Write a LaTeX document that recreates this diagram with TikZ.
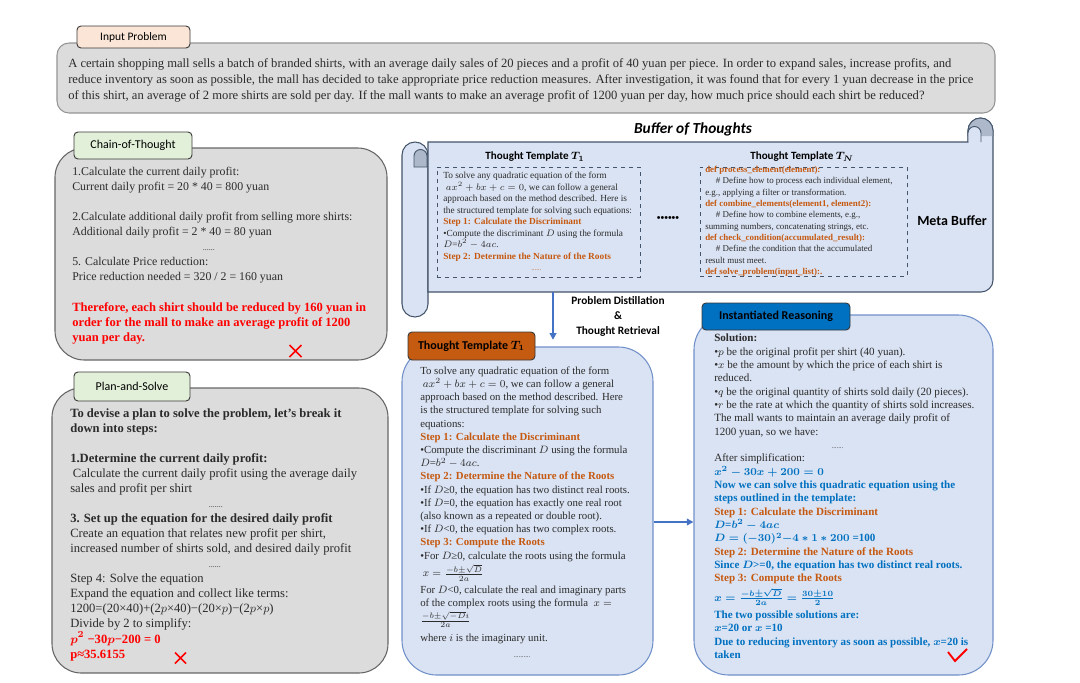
\documentclass[tikz,border=0pt]{standalone}
\usepackage{amsmath}
\usepackage{fontspec}
\setmainfont{Liberation Serif}
\newfontfamily\lblfont{Carlito}
\usepackage{xcolor}
\usepackage{tikz}
\usetikzlibrary{arrows.meta,positioning}

\definecolor{panelgrey}{HTML}{DCDCDC}
\definecolor{panelline}{HTML}{666666}
\definecolor{tabpeach}{HTML}{FBE5D6}
\definecolor{tabgreen}{HTML}{E2F0D9}
\definecolor{tabedge}{HTML}{3A3A3A}
\definecolor{paleblue}{HTML}{DAE3F3}
\definecolor{boxedge}{HTML}{7090C8}
\definecolor{scrollline}{HTML}{44546A}
\definecolor{scrolldark}{HTML}{ADB9CA}
\definecolor{rust}{HTML}{C55A11}
\definecolor{stepor}{HTML}{C65911}
\definecolor{solblue}{HTML}{0070C0}
\definecolor{flowblue}{HTML}{4472C4}
\definecolor{ink}{HTML}{2B2B2B}

\newcommand{\fsz}[2]{\fontsize{#1}{#2}\selectfont}

\begin{document}
\begin{tikzpicture}[
  x=0.75pt, y=-0.75pt,
  greybox/.style={draw=panelline,fill=panelgrey,line width=0.8pt,rounded corners=22pt,inner sep=0pt},
  bluebox/.style={draw=boxedge,fill=paleblue,line width=0.8pt,rounded corners=26pt,inner sep=0pt},
  tab/.style={draw=tabedge,line width=0.7pt,rounded corners=3pt,inner sep=0pt,font=\lblfont\fsz{9}{11}},
  tpl/.style={draw=scrollline,dashed,line width=0.6pt,inner sep=0pt},
  note/.style={anchor=north west,align=left,inner sep=0pt,text=ink},
  tplhead/.style={font=\lblfont\bfseries\fsz{8.3}{10}},
  flow/.style={-{Triangle[length=5pt,width=5pt]},draw=flowblue,line width=1.2pt},
  wrong/.style={draw=red,line width=1.3pt}
]
\useasboundingbox (0,0) rectangle (1080,682);

% input problem
\node[greybox,draw=panelline!70,rounded corners=9pt,minimum width=703.5pt,minimum height=52.5pt] (inputbox) at (526,78) {};
\node[tab,fill=tabpeach,minimum width=84.75pt,minimum height=16.5pt,font=\lblfont\fsz{8.6}{10}] (inputtab) at (133.5,37) {Input Problem};
\node[note,font=\fsz{9.45}{12}] (inputtxt) at (68,58) {A certain shopping mall sells a batch of branded shirts, with an average daily sales of 20 pieces and a profit of 40 yuan per piece. In order to expand sales, increase profits, and\\
reduce inventory as soon as possible, the mall has decided to take appropriate price reduction measures. After investigation, it was found that for every 1 yuan decrease in the price\\
of this shirt, an average of 2 more shirts are sold per day. If the mall wants to make an average profit of 1200 yuan per day, how much price should each shirt be reduced?};

% chain-of-thought
\node[greybox,minimum width=249pt,minimum height=159pt] (cotbox) at (221,254) {};
\node[tab,fill=tabgreen,minimum width=88.5pt,minimum height=20.25pt] (cottab) at (133,145.5) {Chain-of-Thought};
\node[note,font=\fsz{8.9}{11.25}] (cottxt) at (72,166.5) {1.Calculate the current daily profit:\\
Current daily profit = 20 * 40 = 800 yuan\\[11.25pt]
2.Calculate additional daily profit from selling more shirts:\\
Additional daily profit = 2 * 40 = 80 yuan\\
\hspace*{98pt}{\fsz{6}{11.25}......}\\
5. Calculate Price reduction:\\
Price reduction needed = 320 / 2 = 160 yuan\\[12.5pt]
{\color{red}\bfseries\fsz{9.4}{11.25}Therefore, each shirt should be reduced by 160 yuan in}\\
{\color{red}\bfseries\fsz{9.4}{11.25}order for the mall to make an average profit of 1200}\\
{\color{red}\bfseries\fsz{9.4}{11.25}yuan per day.}};
\draw[wrong] (289.5,345) -- (301.5,357) (289.5,357) -- (301.5,345);

% plan-and-solve
\node[greybox,minimum width=252pt,minimum height=213.75pt] (psbox) at (220,530.5) {};
\node[tab,fill=tabgreen,minimum width=87pt,minimum height=21.75pt] (pstab) at (132,386.5) {Plan-and-Solve};
\node[note,font=\fsz{9.45}{11.3}] (pstxt) at (70,408) {{\bfseries To devise a plan to solve the problem, let's break it}\\
{\bfseries down into steps:}\\[11.3pt]
{\bfseries 1.Determine the current daily profit:}\\
\hspace*{2pt}Calculate the current daily profit using the average daily\\
sales and profit per shirt\\
\hspace*{104pt}{\fsz{6}{11.3}.......}\\
{\bfseries 3. Set up the equation for the desired daily profit}\\
Create an equation that relates new profit per shirt,\\
increased number of shirts sold, and desired daily profit\\
\hspace*{104pt}{\fsz{6}{11.3}......}\\
Step 4: Solve the equation\\
Expand the equation and collect like terms:\\
1200=(20×40)+(2$p$×40)−(20×$p$)−(2$p$×$p$)\\
Divide by 2 to simplify:\\
{\color{red}\bfseries\boldmath $p^2$ −30$p$−200 = 0}\\
{\color{red}\bfseries p≈35.6155}};
\draw[wrong] (175,652.5) -- (186,663.5) (175,663.5) -- (186,652.5);

% buffer of thoughts (scroll)
\node[font=\lblfont\bfseries\itshape\fsz{11.5}{13}] (boftitle) at (693,129) {Buffer of Thoughts};
\draw[draw=scrollline,fill=paleblue,line width=0.8pt] (402,155) -- (402,304)
  arc[start angle=180,end angle=360,radius=9.75pt] -- (428,155)
  arc[start angle=0,end angle=180,radius=9.75pt] -- cycle;
\draw[draw=scrollline,fill=scrolldark,line width=0.7pt] (414,167) -- (414,156)
  arc[start angle=180,end angle=0,radius=4.875pt] -- (427,167) -- cycle;
\draw[draw=scrollline,fill=paleblue,line width=0.8pt] (428,142) -- (968,142) -- (968,130.5)
  arc[start angle=180,end angle=0,radius=9.375pt] -- (993,280)
  arc[start angle=0,end angle=-90,radius=9pt] -- (428,292) -- cycle;
\draw[draw=scrollline,fill=scrolldark,line width=0.7pt] (968,136) -- (968,130.5)
  arc[start angle=180,end angle=0,radius=9.375pt] -- (993,136);
\draw[draw=scrollline,fill=paleblue,line width=0.7pt] (968,142) -- (968,133)
  arc[start angle=180,end angle=0,radius=4.875pt] -- (981,142);
\node[minimum width=423.75pt,minimum height=112.5pt] (metabuf) at (710.5,217) {};

\node[tplhead] (tplonehead) at (535,157) {Thought Template {\boldmath$T_1$}};
\node[tpl,minimum width=152.25pt,minimum height=82.5pt] (tplone) at (538.5,222) {};
\node[note,font=\fsz{7}{8.6}] (tplonetxt) at (443,172) {To solve any quadratic equation of the form\\
\hspace*{2pt}$ax^2+bx+c=0$, we can follow a general\\
approach based on the method described. Here is\\
the structured template for solving such equations:\\
{\color{stepor}\bfseries Step 1: Calculate the Discriminant}\\
•Compute the discriminant $D$ using the formula\\
$D$=$b^2-4ac$.\\
{\color{stepor}\bfseries Step 2: Determine the Nature of the Roots}\\
\hspace*{66pt}{\color{stepor}\fsz{5}{8.6}......}};
\node[font=\bfseries\fsz{8}{9}] (moredots) at (668,219) {••••••};
\node[tplhead] (tplNhead) at (802,157) {Thought Template {\boldmath$T_N$}};
\node[tpl,minimum width=155.25pt,minimum height=81.75pt] (tplN) at (803.5,221.5) {};
\node[note,font=\fsz{6.7}{8.5}] (tplNtxt) at (705,166) {{\color{stepor}\bfseries def process\_element(element):}\\
\hspace*{8pt}\# Define how to process each individual element,\\
e.g., applying a filter or transformation.\\
{\color{stepor}\bfseries def combine\_elements(element1, element2):}\\
\hspace*{8pt}\# Define how to combine elements, e.g.,\\
summing numbers, concatenating strings, etc.\\
{\color{stepor}\bfseries def check\_condition(accumulated\_result):}\\
\hspace*{8pt}\# Define the condition that the accumulated\\
result must meet.\\
{\color{stepor}\bfseries def solve\_problem(input\_list):.}};
\node[font=\lblfont\bfseries\fsz{10.5}{12}] (metalbl) at (952,221) {Meta Buffer};

% retrieved template
\node[bluebox,minimum width=188.25pt,minimum height=246pt] (tplbox) at (527.5,511) {};
\node[tab,fill=rust,minimum width=95.25pt,minimum height=21pt,font=\lblfont\bfseries\fsz{9}{11}] (tpltab) at (471.5,346) {Thought Template {\boldmath$T_1$}};
\node[note,font=\fsz{8.1}{9.9}] (tpltxt) at (420,366.5) {To solve any quadratic equation of the form\\
\hspace*{2pt}$ax^2+bx+c=0$, we can follow a general\\
approach based on the method described. Here\\
is the structured template for solving such\\
equations:\\
{\color{stepor}\bfseries Step 1: Calculate the Discriminant}\\
•Compute the discriminant $D$ using the formula\\
$D$=$b^2-4ac$.\\
{\color{stepor}\bfseries Step 2: Determine the Nature of the Roots}\\
•If $D$≥0, the equation has two distinct real roots.\\
•If $D$=0, the equation has exactly one real root\\
(also known as a repeated or double root).\\
•If $D$<0, the equation has two complex roots.\\
{\color{stepor}\bfseries Step 3: Compute the Roots}\\
•For $D$≥0, calculate the roots using the formula\\[1.5pt]
\hspace*{2pt}$x=\frac{-b\pm\sqrt{D}}{2a}$\\[2.5pt]
For $D$<0, calculate the real and imaginary parts\\
of the complex roots using the formula\ \ $x=$\\[1pt]
$\frac{-b\pm\sqrt{-D}i}{2a}$\\[3.5pt]
where $i$ is the imaginary unit.\\[2pt]
\hspace*{70pt}{\fsz{5}{9.9}..........}};

% instantiated reasoning
\node[bluebox,minimum width=224.25pt,minimum height=270pt] (instbox) at (843.5,495) {};
\node[tab,fill=solblue,minimum width=111pt,minimum height=20.25pt,font=\lblfont\bfseries\fsz{9}{11}] (insttab) at (776,316.5) {Instantiated Reasoning};
\node[note,font=\fsz{8.3}{10}] (insttxt) at (714,334) {{\bfseries Solution:}\\
•$p$ be the original profit per shirt (40 yuan).\\
•$x$ be the amount by which the price of each shirt is\\
reduced.\\
•$q$ be the original quantity of shirts sold daily (20 pieces).\\
•$r$ be the rate at which the quantity of shirts sold increases.\\
The mall wants to maintain an average daily profit of\\
1200 yuan, so we have:\\
\hspace*{88pt}{\fsz{5}{10}.......}\\
After simplification:\\
{\color{solblue}\bfseries\boldmath $x^2-30x+200=0$}\\
{\color{solblue}\bfseries Now we can solve this quadratic equation using the}\\
{\color{solblue}\bfseries steps outlined in the template:}\\
{\color{stepor}\bfseries Step 1: Calculate the Discriminant}\\
{\color{solblue}\bfseries\boldmath $D$=$b^2-4ac$}\\
{\color{solblue}\bfseries\boldmath $D=(-30)^2{-}4\ast1\ast200$ =100}\\
{\color{stepor}\bfseries Step 2: Determine the Nature of the Roots}\\
{\color{solblue}\bfseries\boldmath Since $D$>=0, the equation has two distinct real roots.}\\
{\color{stepor}\bfseries Step 3: Compute the Roots}\\[2pt]
{\color{solblue}\bfseries\boldmath $x=\frac{-b\pm\sqrt{D}}{2a}=\frac{30\pm10}{2}$}\\[3pt]
{\color{solblue}\bfseries The two possible solutions are:}\\
{\color{solblue}\bfseries\boldmath $x$=20 or $x$ =10}\\
{\color{solblue}\bfseries\boldmath Due to reducing inventory as soon as possible, $x$=20 is}\\
{\color{solblue}\bfseries taken}};
\draw[red,line width=1.4pt] (948,652) -- (955,661) -- (967,649);

% connectors
\coordinate (distil) at (553,292);
\draw[flow,shorten >=5pt] (distil) -- (distil |- tplbox.north);
\node[font=\lblfont\bfseries\fsz{8.5}{11.25},align=center] (distillbl) at (618,316) {Problem Distillation\\\&\\Thought Retrieval};
\draw[flow] (tplbox.east |- 0,522) -- (instbox.west |- 0,522);
\end{tikzpicture}
\end{document}
